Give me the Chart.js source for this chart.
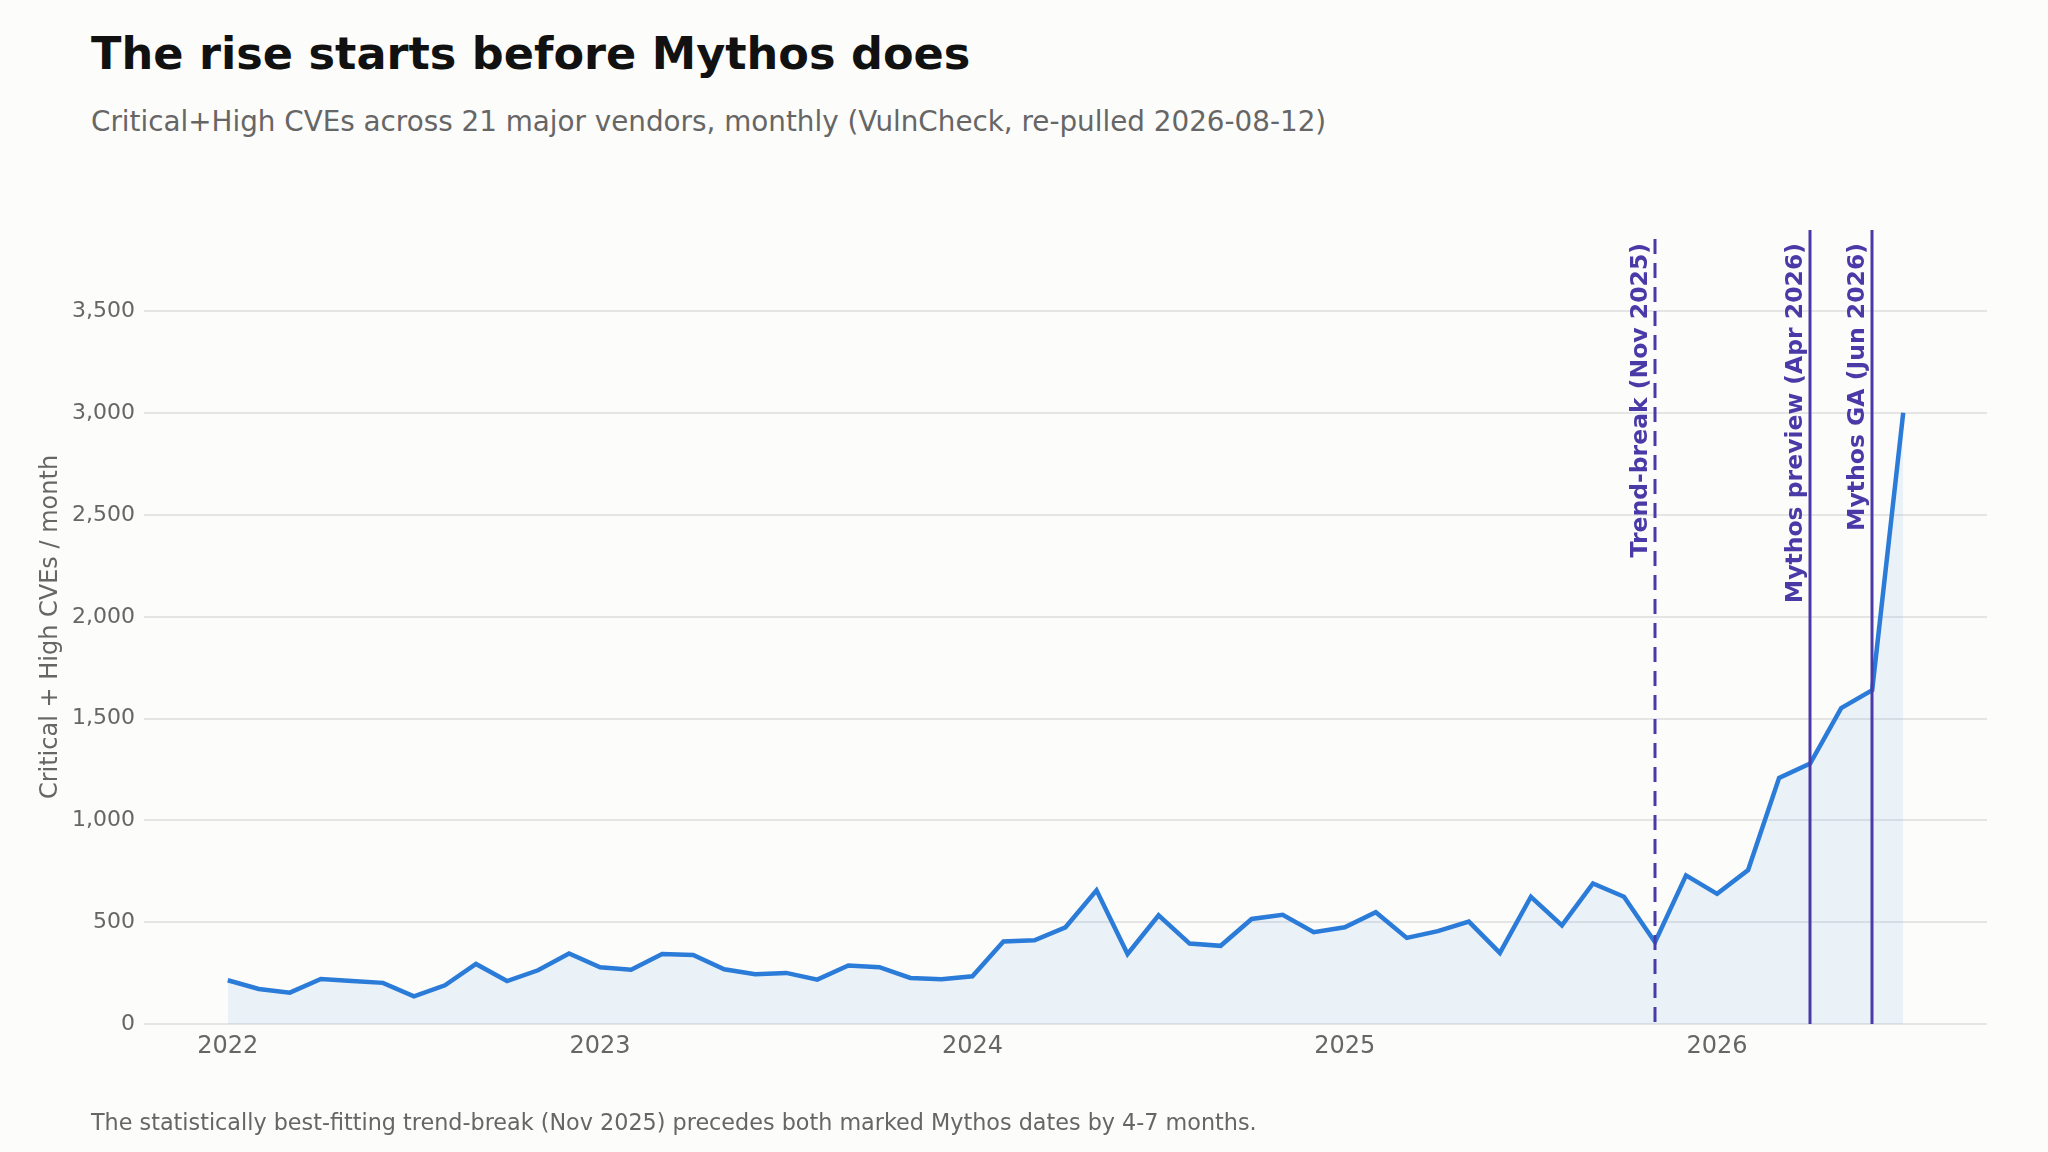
<!DOCTYPE html>
<html>
<head>
<meta charset="utf-8">
<script src="https://cdn.jsdelivr.net/npm/chart.js@4.4.1/dist/chart.umd.min.js"></script>
<style>
  html, body { margin: 0; padding: 0; background: #fcfcfa; }
  body { width: 2048px; height: 1152px; position: relative; overflow: hidden; font-family: "DejaVu Sans", sans-serif; }
  #chart { position: absolute; left: 0; top: 0; }
  .title { position: absolute; left: 91px; top: 28px; font-size: 44.6px; font-weight: bold; color: #111; white-space: nowrap; }
  .subtitle { position: absolute; left: 91px; top: 105px; font-size: 27.8px; color: #666; white-space: nowrap; }
  .footer { position: absolute; left: 91px; top: 1109px; font-size: 22.3px; color: #666; white-space: nowrap; }
</style>
</head>
<body>
<div class="title">The rise starts before Mythos does</div>
<div class="subtitle">Critical+High CVEs across 21 major vendors, monthly (VulnCheck, re-pulled 2026-08-12)</div>
<canvas id="chart" width="2048" height="1152"></canvas>
<div class="footer">The statistically best-fitting trend-break (Nov 2025) precedes both marked Mythos dates by 4-7 months.</div>
<script>
// monthly values, Jan 2022 .. Jul 2026
const cves2022 = [215, 172, 154, 221, 211, 202, 136, 190, 295, 211, 264, 346];
const cves2023 = [279, 267, 344, 339, 269, 244, 251, 218, 287, 279, 226, 220];
const cves2024 = [234, 405, 411, 475, 657, 344, 534, 395, 384, 516, 536, 451];
const cves2025 = [475, 549, 423, 456, 503, 349, 625, 484, 690, 625, 402, 730];
const cves2026 = [639, 756, 1209, 1279, 1552, 1640, 3002];
const cveValues = [...cves2022, ...cves2023, ...cves2024, ...cves2025, ...cves2026];

const yearLabels = ['2022', '2023', '2024', '2025', '2026'];
const yearTicks = [0, 12, 24, 36, 48];      // month index of each January
const yTicks = [0, 500, 1000, 1500, 2000, 2500, 3000, 3500];

// month index, label, dashed?
const markerIdx = [46, 51, 53];
const markerLabels = ['Trend-break (Nov 2025)', 'Mythos preview (Apr 2026)', 'Mythos GA (Jun 2026)'];
const markerDashed = [true, false, false];

const purple = '#4a3aa8';

const markerPlugin = {
  id: 'markers',
  afterDatasetsDraw(chart) {
    const ctx = chart.ctx;
    const xs = chart.scales.x, area = chart.chartArea;
    markerIdx.forEach((m, i) => {
      const px = Math.round(xs.getPixelForValue(m));
      ctx.save();
      ctx.strokeStyle = purple;
      ctx.lineWidth = 3;
      if (markerDashed[i]) ctx.setLineDash([15, 9]);
      ctx.beginPath();
      ctx.moveTo(px, markerDashed[i] ? area.top + 9 : area.top);
      ctx.lineTo(px, area.bottom);
      ctx.stroke();
      ctx.restore();

      ctx.save();
      ctx.translate(px - 2, area.top + 13);
      ctx.rotate(-Math.PI / 2);
      ctx.fillStyle = purple;
      ctx.font = 'bold 23.5px "DejaVu Sans"';
      ctx.textAlign = 'right';
      ctx.textBaseline = 'bottom';
      ctx.fillText(markerLabels[i], 0, 0);
      ctx.restore();
    });
  }
};

Chart.defaults.font.family = '"DejaVu Sans", sans-serif';

new Chart(document.getElementById('chart'), {
  type: 'line',
  data: {
    datasets: [{
      data: cveValues.map((v, i) => ({ x: i, y: v })),
      borderColor: '#2b7bd8',
      borderWidth: 4.5,
      backgroundColor: 'rgba(43,123,216,0.08)',
      fill: 'origin',
      pointRadius: 0,
      tension: 0
    }]
  },
  options: {
    responsive: false,
    animation: false,
    layout: { padding: { left: 0, top: 230, right: 61, bottom: 78 } },
    plugins: { legend: { display: false }, tooltip: { enabled: false } },
    scales: {
      x: {
        type: 'linear',
        min: -2.7,
        max: 56.7,
        afterBuildTicks(scale) { scale.ticks = yearTicks.map(v => ({ value: v })); },
        afterFit(scale) { scale.height = 50; },
        grid: { display: false },
        border: { display: false },
        ticks: {
          color: '#666',
          font: { size: 24 },
          padding: 0,
          maxRotation: 0,
          callback: (v) => yearLabels[yearTicks.indexOf(v)] || ''
        }
      },
      y: {
        min: 0,
        max: 3900,
        afterBuildTicks(scale) { scale.ticks = yTicks.map(v => ({ value: v })); },
        afterFit(scale) { scale.width = 144; },
        grid: { color: '#e5e5e5', lineWidth: 2, drawTicks: false },
        border: { display: false },
        title: {
          display: true,
          text: 'Critical + High CVEs / month',
          color: '#666',
          font: { size: 24 },
          padding: { top: 36, bottom: 0 }
        },
        ticks: {
          color: '#666',
          font: { size: 22 },
          padding: 9,
          callback: (v) => v.toLocaleString('en-US')
        }
      }
    }
  },
  plugins: [markerPlugin]
});
</script>
</body>
</html>
